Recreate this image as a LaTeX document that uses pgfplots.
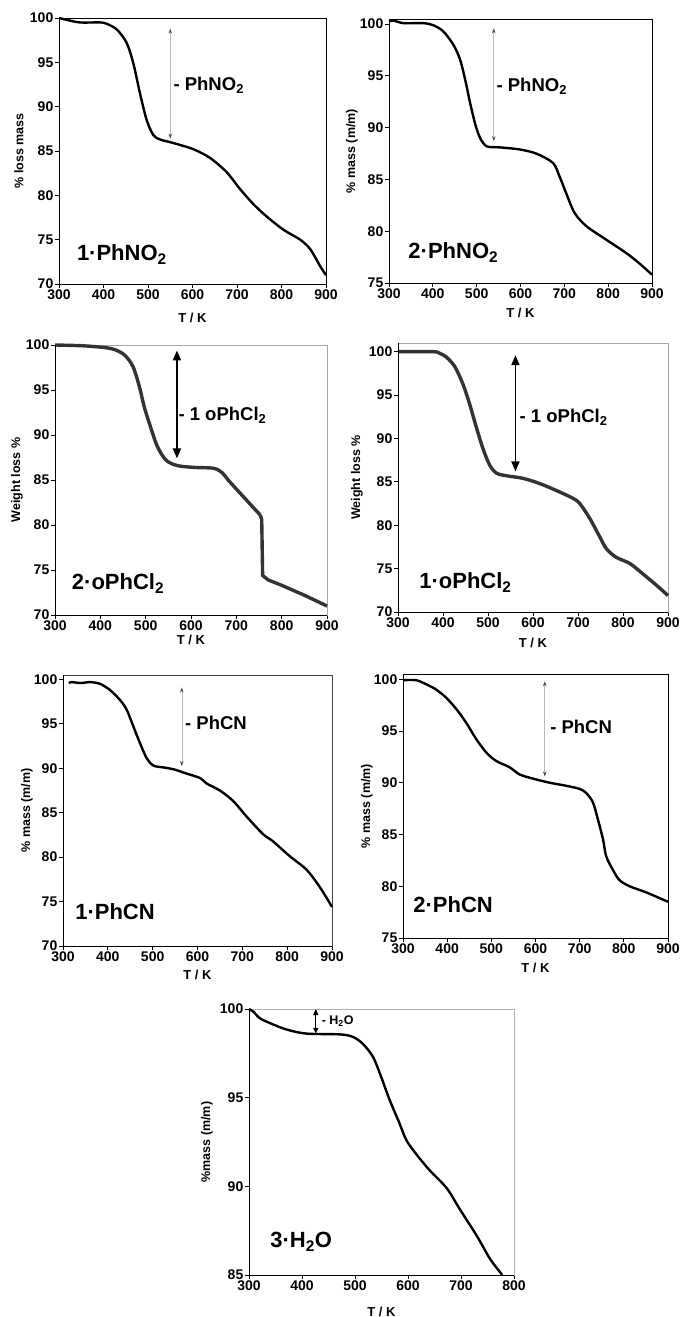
\documentclass[border=0pt]{standalone}
\usepackage{fontspec}
\setmainfont{Liberation Sans}
\usepackage{pgfplots}
\pgfplotsset{compat=1.18}
\usetikzlibrary{arrows.meta}

\newcommand{\fs}[1]{\fontsize{#1}{#1}\selectfont}

\pgfplotsset{
  tga/.style={
    scale only axis, clip=false,
    xmin=300, xmax=900, xtick={300,400,...,900},
    tick align=outside, xtick pos=bottom, ytick pos=left,
    major tick length=4pt,
    tick style={black, line width=0.9pt},
    axis line style={line width=0.9pt},
    /pgf/number format/assume math mode=true,
    xticklabel style={font=\bfseries\fs{14}, inner sep=1.5pt},
    yticklabel style={font=\bfseries\fs{14}, inner sep=1.5pt},
    xlabel={T / K},
  },
  xls/.style={every axis x label/.style={at={(axis description cs:0.5,0)}, anchor=center, yshift=#1, font=\bfseries\fs{13}}},
  yls/.style={every axis y label/.style={at={(axis description cs:0,0.5)}, anchor=center, xshift=#1, rotate=90, font=\bfseries\fs{12.5}}},
  curve/.style={black, line width=2.4pt, smooth, tension=0.5, no marks},
  thickcurve/.style={black!80, line width=3.4pt, no marks},
}
% left and bottom axis lines in black over a lighter frame
\newcommand{\blackaxes}{\draw[black, line width=1pt] (rel axis cs:0,1) -- (rel axis cs:0,0) -- (rel axis cs:1,0);}

\begin{document}
\begin{tikzpicture}
\useasboundingbox (0,0) rectangle (681pt,-1317pt);

% ---------- 1.PhNO2 ----------
\begin{axis}[tga, at={(59pt,-284pt)}, anchor=south west, width=267pt, height=266pt,
  ymin=70, ymax=100, ytick={70,75,...,100}, ylabel={\% loss mass},
  axis line style={black}, xls=-34pt, yls=-40pt]
\addplot[curve] coordinates {
 (300,100) (317,99.8) (347,99.5) (392,99.5) (407,99.35) (430,98.7) (452,97.2)
 (467,94.9) (482,91.5) (497,88.5) (512,86.8) (527,86.3) (557,85.9) (602,85.2)
 (640,84.2) (677,82.6) (707,80.7) (737,79.0) (767,77.6) (805,76.1) (842,75.0)
 (865,73.9) (887,72.0) (900,71.0)};
\draw[gray!55, line width=0.6pt, {Stealth[black!70,length=5pt,width=3.5pt]}-{Stealth[black!70,length=5pt,width=3.5pt]}]
  (axis cs:550,98.8) -- (axis cs:550,86.4);
\node[anchor=mid west, inner sep=0, font=\bfseries\fs{18.5}] at (axis cs:557,92.1) {- PhNO\textsubscript{2}};
\node[anchor=mid west, inner sep=0, font=\bfseries\fs{22}] at (axis cs:340,72.9) {1·PhNO\textsubscript{2}};
\end{axis}

% ---------- 2.PhNO2 ----------
\begin{axis}[tga, at={(389pt,-283pt)}, anchor=south west, width=263pt, height=264pt,
  ymin=75, ymax=100.5, ytick={75,80,...,100}, ylabel={\% mass (m/m)},
  axis line style={black}, xls=-30pt, yls=-37pt]
\addplot[curve] coordinates {
 (300,100.26) (310,100.35) (333,100.1) (378,100.1) (401,99.9) (424,99.3) (447,98.0)
 (462,96.6) (474,94.6) (485,92.4) (497,90.3) (508,89.0) (523,88.2) (553,88.1)
 (598,87.9) (636,87.5) (674,86.6) (689,85.3) (704,83.7) (723,81.8) (750,80.5)
 (795,79.2) (841,77.9) (871,76.9) (900,75.8)};
\draw[gray!55, line width=0.6pt, {Stealth[black!70,length=5pt,width=3.5pt]}-{Stealth[black!70,length=5pt,width=3.5pt]}]
  (axis cs:539,99.6) -- (axis cs:539,88.7);
\node[anchor=mid west, inner sep=0, font=\bfseries\fs{18.5}] at (axis cs:545,93.8) {- PhNO\textsubscript{2}};
\node[anchor=mid west, inner sep=0, font=\bfseries\fs{22}] at (axis cs:344,77.6) {2·PhNO\textsubscript{2}};
\end{axis}

% ---------- 2.oPhCl2 ----------
\begin{axis}[tga, at={(55pt,-615pt)}, anchor=south west, width=272pt, height=270pt,
  ymin=70, ymax=100, ytick={70,75,...,100}, ylabel={Weight loss \%},
  axis line style={gray!70}, xls=-25pt, yls=-38pt]
\addplot[thickcurve, smooth, tension=0.5] coordinates {
 (300,100) (366,99.9) (424,99.6) (453,98.9) (472,97.6) (486,95.4) (497,93.1)
 (512,90.7) (526,88.7) (545,87.2) (570,86.6) (607,86.4) (650,86.3) (669,85.8)
 (682,85.0) (700,84.0) (720,82.9) (740,81.8) (753,81.1)};
\addplot[thickcurve] coordinates {
 (753,81.1) (756,80.6) (757,77.5) (758,74.4) (770,73.9) (800,73.3) (850,72.2) (900,71.0)};
\blackaxes
\draw[black, line width=1.8pt, {Triangle[length=10pt,width=8pt]}-{Triangle[length=10pt,width=8pt]}]
  (axis cs:569,99.4) -- (axis cs:569,87.4);
\node[anchor=mid west, inner sep=0, font=\bfseries\fs{18.5}] at (axis cs:572,91.9) {- 1 oPhCl\textsubscript{2}};
\node[anchor=mid west, inner sep=0, font=\bfseries\fs{22}] at (axis cs:337,73.1) {2·oPhCl\textsubscript{2}};
\end{axis}

% ---------- 1.oPhCl2 ----------
\begin{axis}[tga, at={(398pt,-612pt)}, anchor=south west, width=270pt, height=269pt,
  ymin=70, ymax=101, ytick={70,75,...,100}, ylabel={Weight loss \%},
  axis line style={gray!70}, xls=-31pt, yls=-41pt]
\addplot[thickcurve, smooth, tension=0.5] coordinates {
 (300,100) (378,100) (393,99.8) (407,99.4) (426,98.3) (444,96.3) (459,94.0)
 (474,91.3) (489,88.8) (504,86.9) (519,86.0) (541,85.7) (578,85.4) (615,84.8)
 (652,84.0) (689,83.1) (704,82.5) (726,80.8) (748,78.7) (763,77.3) (785,76.3)
 (815,75.6) (844,74.4) (874,73.1) (900,71.9)};
\blackaxes
\draw[black, line width=1.8pt, {Triangle[length=10pt,width=8pt]}-{Triangle[length=10pt,width=8pt]}]
  (axis cs:561,99.6) -- (axis cs:561,86.2);
\node[anchor=mid west, inner sep=0, font=\bfseries\fs{18.5}] at (axis cs:570,92.1) {- 1 oPhCl\textsubscript{2}};
\node[anchor=mid west, inner sep=0, font=\bfseries\fs{22}] at (axis cs:347,73.0) {1·oPhCl\textsubscript{2}};
\end{axis}

% ---------- 1.PhCN ----------
\begin{axis}[tga, at={(63pt,-946pt)}, anchor=south west, width=269pt, height=271pt,
  ymin=70, ymax=100.5, ytick={70,75,...,100}, ylabel={\% mass (m/m)},
  axis line style={black!75}, xls=-29pt, yls=-36pt]
\addplot[curve] coordinates {
 (313,99.6) (320,99.7) (339,99.6) (361,99.7) (383,99.5) (405,98.8) (427,97.7)
 (442,96.6) (457,94.7) (472,92.8) (487,91.1) (502,90.3) (524,90.1) (546,89.9)
 (576,89.4) (606,88.9) (620,88.3) (650,87.5) (680,86.3) (709,84.6) (746,82.6)
 (768,81.8) (806,80.1) (843,78.6) (872,76.7) (900,74.4)};
\blackaxes
\draw[gray!55, line width=0.6pt, {Stealth[black!70,length=5pt,width=3.5pt]}-{Stealth[black!70,length=5pt,width=3.5pt]}]
  (axis cs:565,99.1) -- (axis cs:565,90.25);
\node[anchor=mid west, inner sep=0, font=\bfseries\fs{18.5}] at (axis cs:572,94.7) {- PhCN};
\node[anchor=mid west, inner sep=0, font=\bfseries\fs{22}] at (axis cs:327,73.3) {1·PhCN};
\end{axis}

% ---------- 2.PhCN ----------
\begin{axis}[tga, at={(403pt,-938pt)}, anchor=south west, width=265pt, height=264pt,
  ymin=75, ymax=100.5, ytick={75,80,...,100}, ylabel={\% mass (m/m)},
  axis line style={black}, xls=-30pt, yls=-36pt]
\addplot[curve] coordinates {
 (300,99.9) (330,99.9) (353,99.5) (375,99.0) (398,98.2) (421,97.1) (443,95.8)
 (466,94.2) (489,92.9) (511,92.1) (541,91.5) (564,90.8) (594,90.4) (632,90.0)
 (670,89.7) (700,89.4) (715,89.0) (730,88.1) (741,86.5) (753,84.5) (760,82.9)
 (775,81.6) (790,80.6) (813,80.0) (851,79.4) (900,78.5)};
\draw[gray!55, line width=0.6pt, {Stealth[black!70,length=5pt,width=3.5pt]}-{Stealth[black!70,length=5pt,width=3.5pt]}]
  (axis cs:621,99.8) -- (axis cs:621,90.6);
\node[anchor=mid west, inner sep=0, font=\bfseries\fs{18.5}] at (axis cs:633,95.0) {- PhCN};
\node[anchor=mid west, inner sep=0, font=\bfseries\fs{22}] at (axis cs:323,77.7) {2·PhCN};
\end{axis}

% ---------- 3.H2O ----------
\begin{axis}[tga, at={(249pt,-1275pt)}, anchor=south west, width=265pt, height=266pt,
  xmax=800, xtick={300,400,...,800},
  ymin=85, ymax=100, ytick={85,90,95,100}, ylabel={\%mass (m/m)},
  axis line style={gray!60}, xls=-37pt, yls=-42pt]
\addplot[curve] coordinates {
 (300,100) (308,99.85) (321,99.47) (340,99.2) (365,98.9) (390,98.7) (415,98.6)
 (471,98.57) (495,98.44) (514,98.06) (534,97.3) (549,96.2) (565,94.9) (584,93.55)
 (597,92.6) (616,91.8) (641,90.9) (673,89.9) (698,88.7) (730,87.2) (755,85.9) (778,85.0)};
\blackaxes
\draw[black, line width=1.3pt, {Triangle[length=6pt,width=5pt]}-{Triangle[length=6pt,width=5pt]}]
  (axis cs:426,100) -- (axis cs:426,98.6);
\node[anchor=mid west, inner sep=0, font=\bfseries\fs{12.5}] at (axis cs:437,99.3) {- H\textsubscript{2}O};
\node[anchor=mid west, inner sep=0, font=\bfseries\fs{22}] at (axis cs:340,86.7) {3·H\textsubscript{2}O};
\end{axis}
\end{tikzpicture}
\end{document}
